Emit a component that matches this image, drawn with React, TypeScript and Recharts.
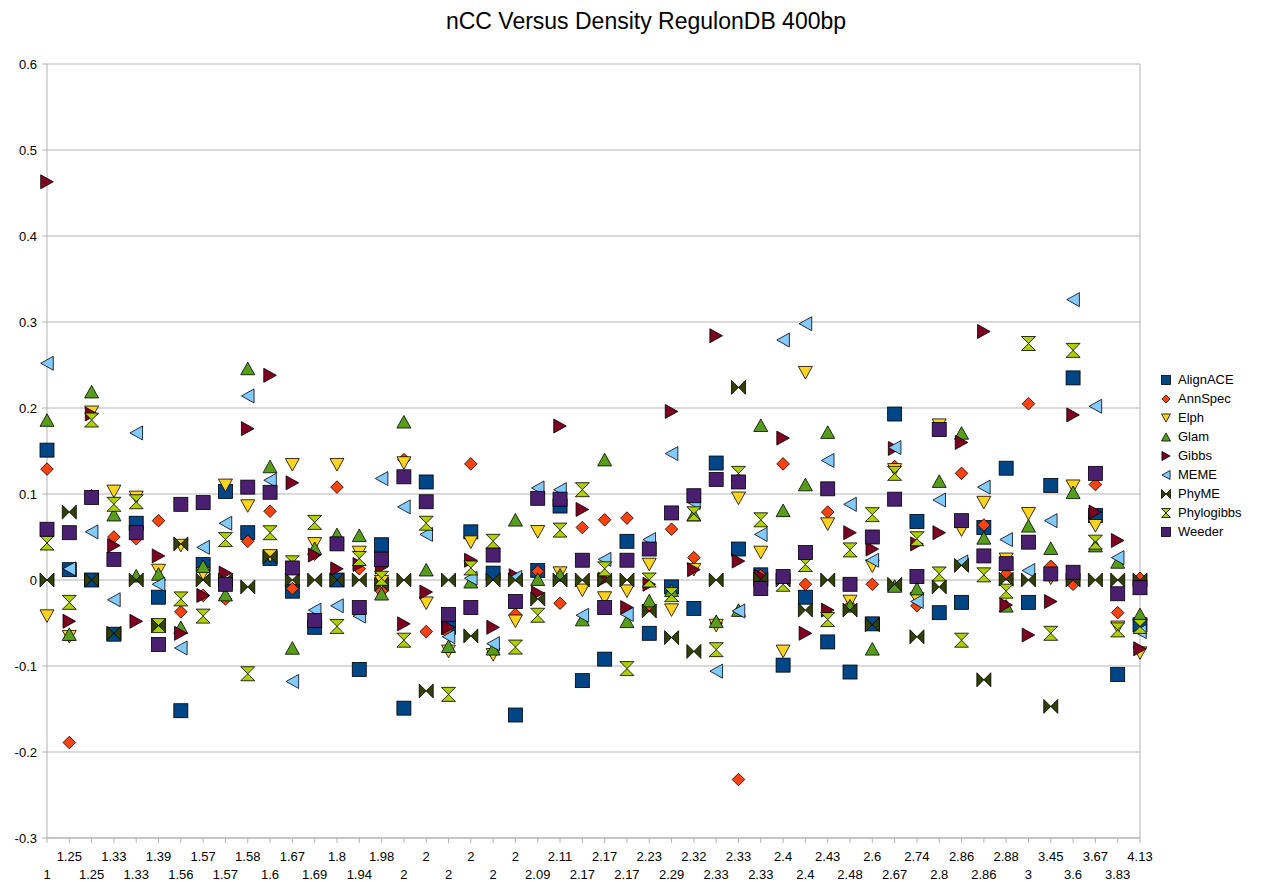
import React from "react";
import {
  ScatterChart,
  Scatter,
  XAxis,
  YAxis,
  CartesianGrid,
  ReferenceLine,
} from "recharts";

const FONT = "'Liberation Sans', Arial, sans-serif";

const categories = [
  "1", "1.25", "1.25", "1.33", "1.33", "1.39", "1.56", "1.57", "1.57", "1.58",
  "1.6", "1.67", "1.69", "1.8", "1.94", "1.98", "2", "2", "2", "2",
  "2", "2", "2.09", "2.11", "2.17", "2.17", "2.17", "2.23", "2.29", "2.32",
  "2.33", "2.33", "2.33", "2.4", "2.4", "2.43", "2.48", "2.6", "2.67", "2.74",
  "2.8", "2.86", "2.86", "2.88", "3", "3.45", "3.6", "3.67", "3.83", "4.13",
];

const yTicks = [-0.3, -0.2, -0.1, 0, 0.1, 0.2, 0.3, 0.4, 0.5, 0.6];

const alignAce = [
  0.151, 0.012, 0, -0.063, 0.066, -0.02, -0.152, 0.018, 0.103, 0.055,
  0.025, -0.013, -0.055, 0, -0.104, 0.041, -0.149, 0.114, -0.055, 0.056,
  0.008, -0.157, 0.011, 0.086, -0.117, -0.092, 0.045, -0.062, -0.008, -0.033,
  0.136, 0.036, 0.006, -0.099, -0.02, -0.072, -0.107, -0.051, 0.193, 0.068,
  -0.038, -0.026, 0.061, 0.13, -0.026, 0.11, 0.235, 0.075, -0.11, -0.052,
];
const annSpec = [
  0.129, -0.189, 0.098, 0.05, 0.048, 0.069, -0.037, -0.018, -0.022, 0.045,
  0.08, -0.01, 0.03, 0.108, 0.013, -0.013, 0.14, -0.06, -0.062, 0.135,
  -0.084, -0.04, 0.01, -0.027, 0.061, 0.07, 0.072, -0.03, 0.059, 0.026,
  -0.05, -0.232, 0.005, 0.135, -0.005, 0.079, -0.03, -0.005, 0.132, -0.03,
  0.178, 0.124, 0.064, 0.007, 0.205, 0.016, -0.005, 0.111, -0.038, 0.002,
];
const elph = [
  -0.042, -0.066, 0.195, 0.103, 0.096, 0.011, 0.04, 0.007, 0.11, 0.086,
  0.028, 0.134, 0.042, 0.134, 0.032, -0.002, 0.136, -0.027, -0.083, 0.044,
  -0.087, -0.048, 0.056, 0.008, -0.012, -0.021, -0.013, 0.018, -0.035, 0.012,
  -0.053, 0.095, 0.032, -0.083, 0.241, 0.065, -0.025, 0.016, 0.128, -0.022,
  0.18, 0.058, 0.09, 0.024, 0.077, 0.002, 0.109, 0.063, -0.055, -0.085,
];
const glam = [
  0.186, -0.063, 0.219, 0.076, 0.005, 0.007, -0.055, 0.016, -0.017, 0.246,
  0.132, -0.079, 0.037, 0.053, 0.052, -0.016, 0.184, 0.012, -0.077, -0.002,
  -0.08, 0.07, 0.001, 0.006, -0.046, 0.14, -0.048, -0.024, -0.012, 0.076,
  -0.048, -0.035, 0.18, 0.081, 0.111, 0.172, -0.03, -0.08, -0.007, -0.01,
  0.115, 0.171, 0.049, -0.03, 0.063, 0.037, 0.102, 0.04, 0.021, -0.04,
];
const gibbs = [
  0.463, -0.048, 0.193, 0.04, -0.048, 0.028, -0.062, -0.018, 0.008, 0.176,
  0.238, 0.113, 0.029, 0.013, 0.018, 0.015, -0.051, -0.014, -0.055, 0.023,
  -0.055, 0.005, -0.015, 0.179, 0.082, 0.001, -0.032, -0.005, 0.196, 0.012,
  0.284, 0.022, 0.004, 0.165, -0.062, -0.035, 0.055, 0.036, 0.153, 0.042,
  0.055, 0.16, 0.289, -0.029, -0.064, -0.025, 0.192, 0.079, 0.046, -0.08,
];
const meme = [
  0.252, 0.013, 0.056, -0.023, 0.171, -0.005, -0.079, 0.038, 0.066, 0.214,
  0.116, -0.118, -0.035, -0.03, -0.042, 0.118, 0.085, 0.053, -0.066, 0.002,
  -0.074, 0.003, 0.107, 0.105, -0.041, 0.024, -0.04, 0.047, 0.147, 0.09,
  -0.106, -0.036, 0.053, 0.279, 0.298, 0.139, 0.088, 0.023, 0.154, -0.025,
  0.093, 0.021, 0.108, 0.047, 0.011, 0.069, 0.326, 0.202, 0.026, -0.06,
];
const phyMe = [
  0, 0.079, 0, -0.062, 0, -0.053, 0.042, 0, 0, -0.008,
  0.027, 0, 0, 0, 0, -0.005, 0, -0.129, 0, -0.065,
  0, 0, -0.022, 0, 0, 0, 0, -0.036, -0.067, -0.083,
  0, 0.224, 0.001, 0, -0.035, 0, -0.035, -0.052, -0.005, -0.066,
  -0.008, 0.017, -0.116, 0.001, 0, -0.147, 0, 0, 0, 0,
];
const phylogibbs = [
  0.043, -0.026, 0.186, 0.088, 0.091, -0.053, -0.022, -0.042, 0.047, -0.109,
  0.055, 0.02, 0.067, -0.054, 0.025, 0.002, -0.07, 0.066, -0.133, 0.014,
  0.045, -0.078, -0.041, 0.058, 0.105, 0.013, -0.103, 0, -0.017, 0.077,
  -0.081, 0.124, 0.07, -0.005, 0.018, -0.046, 0.035, 0.076, 0.124, 0.048,
  0.007, -0.07, 0.006, -0.013, 0.275, -0.062, 0.267, 0.044, -0.058, -0.054,
];
const weeder = [
  0.059, 0.055, 0.096, 0.024, 0.055, -0.075, 0.088, 0.09, -0.005, 0.108,
  0.102, 0.014, -0.047, 0.042, -0.032, 0.024, 0.12, 0.091, -0.04, -0.032,
  0.029, -0.025, 0.095, 0.094, 0.023, -0.032, 0.023, 0.036, 0.078, 0.098,
  0.117, 0.114, -0.01, 0.004, 0.032, 0.106, -0.005, 0.05, 0.094, 0.004,
  0.175, 0.069, 0.028, 0.019, 0.044, 0.007, 0.009, 0.124, -0.016, -0.009,
];

type Shape = "square" | "diamond" | "down" | "up" | "right" | "left" | "bowtie" | "hourglass";

const series: { name: string; values: number[]; color: string; shape: Shape }[] = [
  { name: "AlignACE", values: alignAce, color: "#004586", shape: "square" },
  { name: "AnnSpec", values: annSpec, color: "#ff420e", shape: "diamond" },
  { name: "Elph", values: elph, color: "#ffd320", shape: "down" },
  { name: "Glam", values: glam, color: "#579d1c", shape: "up" },
  { name: "Gibbs", values: gibbs, color: "#7e0021", shape: "right" },
  { name: "MEME", values: meme, color: "#83caff", shape: "left" },
  { name: "PhyME", values: phyMe, color: "#314004", shape: "bowtie" },
  { name: "Phylogibbs", values: phylogibbs, color: "#aecf00", shape: "hourglass" },
  { name: "Weeder", values: weeder, color: "#4b1f6f", shape: "square" },
];

const marker = (shape: Shape, cx: number, cy: number, r: number, color: string) => {
  const common = { fill: color, stroke: "#000", strokeWidth: 0.8 };
  const pts = (arr: number[][]) => arr.map(([x, y]) => `${cx + x * r},${cy + y * r}`).join(" ");
  switch (shape) {
    case "square":
      return <rect x={cx - r} y={cy - r} width={2 * r} height={2 * r} {...common} />;
    case "diamond":
      return <polygon points={pts([[0, -0.9], [0.9, 0], [0, 0.9], [-0.9, 0]])} {...common} />;
    case "down":
      return <polygon points={pts([[-1, -0.9], [1, -0.9], [0, 0.9]])} {...common} />;
    case "up":
      return <polygon points={pts([[-1, 0.9], [1, 0.9], [0, -0.9]])} {...common} />;
    case "right":
      return <polygon points={pts([[-0.9, -1], [0.9, 0], [-0.9, 1]])} {...common} />;
    case "left":
      return <polygon points={pts([[0.9, -1], [-0.9, 0], [0.9, 1]])} {...common} />;
    case "bowtie":
      return <polygon points={pts([[-1, -1], [1, 1], [1, -1], [-1, 1]])} {...common} />;
    case "hourglass":
      return <polygon points={pts([[-1, -1], [1, -1], [-1, 1], [1, 1]])} {...common} />;
  }
};

const XTick = (props: any) => {
  const { x, y, payload } = props;
  const i = payload.value as number;
  const lower = i % 2 === 0;
  return (
    <text x={x} y={y + (lower ? 34 : 16)} textAnchor="middle" fontSize={13} fontFamily={FONT} fill="#000">
      {categories[i]}
    </text>
  );
};

const LegendBox = () => (
  <div style={{ position: "absolute", left: 1160, top: 370, fontFamily: FONT, fontSize: 13, color: "#000" }}>
    {series.map((s) => (
      <div key={s.name} style={{ display: "flex", alignItems: "center", height: 19 }}>
        <svg width={12} height={12} style={{ marginRight: 6 }}>
          {marker(s.shape, 6, 6, 4.5, s.color)}
        </svg>
        <span>{s.name}</span>
      </div>
    ))}
  </div>
);

export default function App() {
  const xTicks = categories.map((_, i) => i);
  return (
    <div style={{ position: "absolute", left: 0, top: 0, width: 1276, height: 882, background: "#fff" }}>
      <div
        style={{
          position: "absolute",
          top: 8,
          left: 0,
          width: 1292,
          textAlign: "center",
          fontFamily: FONT,
          fontSize: 23,
          color: "#000",
        }}
      >
        nCC Versus Density RegulonDB 400bp
      </div>
      <ScatterChart width={1276} height={882} margin={{ top: 64, right: 136, bottom: 0, left: 0 }}>
        <CartesianGrid horizontal vertical={false} stroke="#b3b3b3" />
        <XAxis
          type="number"
          dataKey="x"
          domain={[0, 49]}
          ticks={xTicks}
          interval={0}
          height={44}
          tick={<XTick />}
          tickSize={5}
          stroke="#b3b3b3"
        />
        <YAxis
          type="number"
          dataKey="y"
          domain={[-0.3, 0.6]}
          ticks={yTicks}
          interval={0}
          width={47}
          tickSize={5}
          tickMargin={5}
          stroke="#b3b3b3"
          tick={{ fill: "#000", fontSize: 13, fontFamily: FONT }}
          tickFormatter={(v: number) => String(Math.round(v * 10) / 10)}
        />
        <ReferenceLine x={49} stroke="#b3b3b3" />
        {series.map((s) => (
          <Scatter
            key={s.name}
            name={s.name}
            data={s.values.map((y, i) => ({ x: i, y }))}
            fill={s.color}
            isAnimationActive={false}
            shape={(p: any) => marker(s.shape, p.cx, p.cy, 7, s.color)}
          />
        ))}
      </ScatterChart>
      <LegendBox />
    </div>
  );
}
